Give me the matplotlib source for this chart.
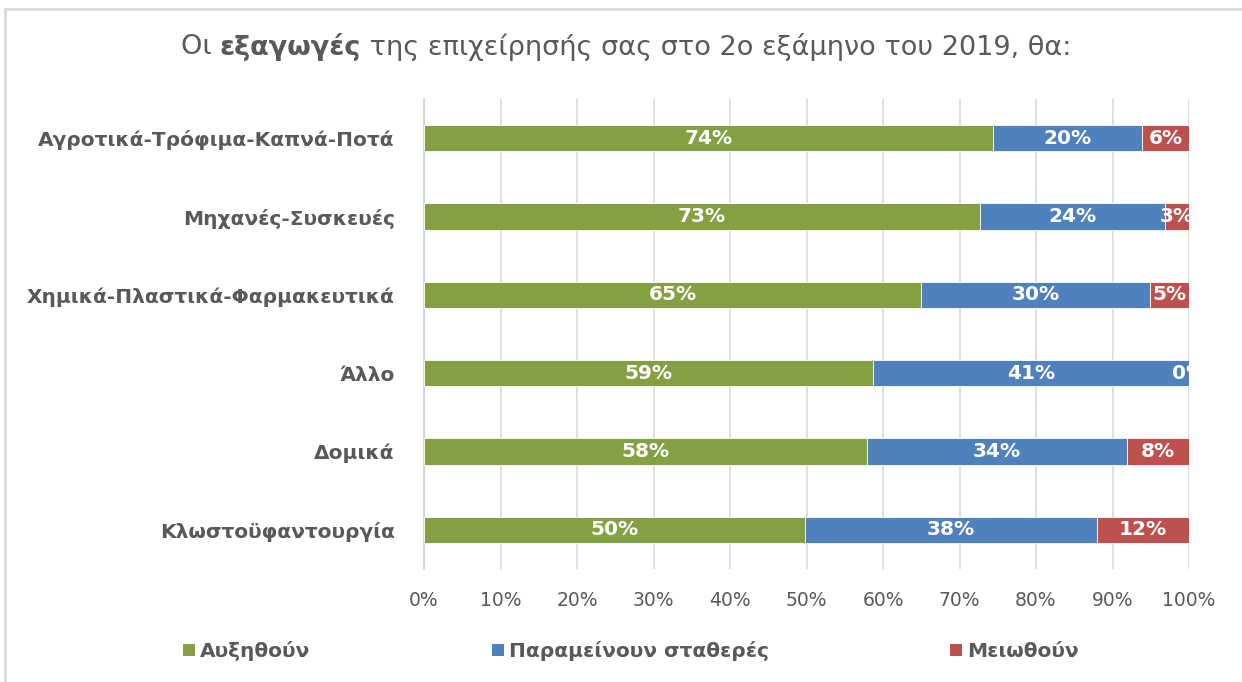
import matplotlib
matplotlib.use("Agg")
import matplotlib.pyplot as plt
from matplotlib.patches import Patch, Rectangle
from matplotlib.ticker import PercentFormatter

plt.rcParams['font.family'] = ['DejaVu Sans']

# Data (top to bottom as shown), shares in %
categories = ['Αγροτικά-Τρόφιμα-Καπνά-Ποτά', 'Μηχανές-Συσκευές',
              'Χημικά-Πλαστικά-Φαρμακευτικά', 'Άλλο', 'Δομικά',
              'Κλωστοϋφαντουργία']
increase = [74.4, 72.7, 65.0, 58.7, 57.9, 49.8]
stable = [19.5, 24.2, 29.9, 41.3, 34.0, 38.2]
decrease = [6.1, 3.1, 5.1, 0.0, 8.1, 12.0]
series_names = ['Αυξηθούν', 'Παραμείνουν σταθερές', 'Μειωθούν']
colors = ['#84A043', '#4F81BD', '#C0504D']
text_grey = '#595959'

fig = plt.figure(figsize=(12.42, 6.82), dpi=100)
ax = fig.add_axes([424 / 1242, 1 - 569 / 682, 765 / 1242, 470 / 682])

ypos = list(range(len(categories)))[::-1]
left = [0.0] * len(categories)
for vals, name, col in zip([increase, stable, decrease], series_names, colors):
    ax.barh(ypos, vals, left=left, height=0.34, color=col,
            edgecolor='white', linewidth=0.6, label=name, zorder=3)
    for y, v, l in zip(ypos, vals, left):
        ax.text(l + v / 2, y, f'{v:.0f}%', ha='center', va='center',
                color='white', fontsize=14.5, fontweight='bold', zorder=4,
                clip_on=True)
    left = [a + b for a, b in zip(left, vals)]

ax.set_xlim(0, 100)
ax.set_ylim(-0.5, len(categories) - 0.5)
ax.set_xticks(range(0, 101, 10))
ax.xaxis.set_major_formatter(PercentFormatter(decimals=0))
ax.set_yticks(ypos)
ax.set_yticklabels(categories, fontsize=14.5, fontweight='bold', color=text_grey)
ax.tick_params(axis='x', labelsize=13.5, labelcolor=text_grey, length=0, pad=16)
ax.tick_params(axis='y', length=0, pad=21)
ax.grid(axis='x', color='#D9D9D9', linewidth=1.2, zorder=0)
for s in ['top', 'right', 'bottom']:
    ax.spines[s].set_visible(False)
ax.spines['left'].set_color('#D0D0D0')
ax.spines['left'].set_linewidth(1.2)

# Title with bold word
renderer = fig.canvas.get_renderer()
parts = [('Οι ', 'normal'), ('εξαγωγές', 'bold'),
         (' της επιχείρησής σας στο 2ο εξάμηνο του 2019, θα:', 'normal')]
texts = []
for s, w in parts:
    t = fig.text(0, 1 - 47 / 682, s, fontsize=19.5, fontweight=w,
                 color=text_grey, va='center', ha='left')
    texts.append(t)
widths = [t.get_window_extent(renderer).width / fig.bbox.width for t in texts]
x = 626 / 1242 - sum(widths) / 2
for t, w in zip(texts, widths):
    t.set_x(x)
    x += w

# Legend
handles = [Patch(facecolor=c, edgecolor='none') for c in colors]
leg = fig.legend(handles, series_names, loc='center', ncol=3,
                 bbox_to_anchor=(631 / 1242, 1 - 651 / 682), frameon=False,
                 fontsize=14.5, handlelength=0.6, handleheight=0.6,
                 handletextpad=0.25, columnspacing=9.0, labelcolor=text_grey)
for t in leg.get_texts():
    t.set_fontweight('bold')

# Chart frame (cut off at right and bottom)
fig.patches.append(Rectangle((5 / 1242, -0.2), 1.2, 1.2 - 9 / 682,
                             transform=fig.transFigure, fill=False,
                             edgecolor='#D9D9D9', linewidth=2))

fig.savefig('out.png', dpi=100, facecolor='white')
